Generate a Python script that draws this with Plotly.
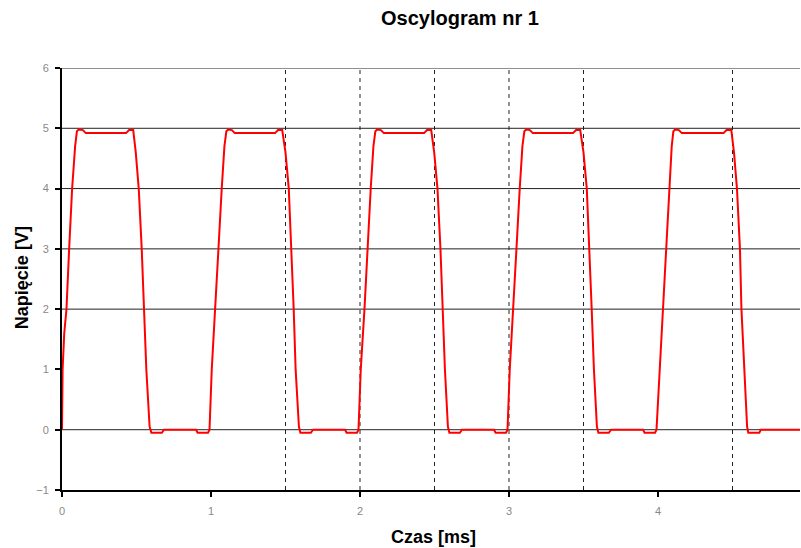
import plotly.graph_objects as go

# ---- data (time in ms, voltage in V) ----
time_ms = [
    0.000, 0.004, 0.015, 0.030, 0.048, 0.068, 0.088, 0.100, 0.112, 0.140, 0.160,
    0.430, 0.450, 0.478, 0.495, 0.515, 0.535, 0.550, 0.566, 0.588, 0.600, 0.670, 0.685,
    0.900, 0.910, 0.980, 0.990, 1.005, 1.030, 1.050, 1.072, 1.090, 1.103, 1.115, 1.140, 1.160,
    1.430, 1.450, 1.478, 1.500, 1.522, 1.540, 1.555, 1.568, 1.590, 1.600, 1.670, 1.685,
    1.900, 1.910, 1.980, 1.990, 2.005, 2.030, 2.050, 2.072, 2.090, 2.103, 2.115, 2.140, 2.160,
    2.430, 2.450, 2.478, 2.498, 2.520, 2.540, 2.555, 2.570, 2.590, 2.600, 2.670, 2.685,
    2.900, 2.910, 2.980, 2.990, 3.005, 3.030, 3.050, 3.072, 3.090, 3.103, 3.115, 3.140, 3.160,
    3.430, 3.450, 3.478, 3.500, 3.522, 3.540, 3.555, 3.570, 3.590, 3.600, 3.670, 3.685,
    3.900, 3.910, 3.980, 3.990, 4.012, 4.036, 4.054, 4.076, 4.092, 4.103, 4.115, 4.140, 4.160,
    4.440, 4.460, 4.492, 4.510, 4.530, 4.550, 4.560, 4.577, 4.598, 4.606, 4.680, 4.690,
    4.953,
]
voltage_v = [
    0.00, 1.00, 1.60, 2.00, 3.00, 4.00, 4.70, 4.95, 4.98, 4.97, 4.92,
    4.92, 4.97, 4.97, 4.60, 4.00, 3.00, 2.00, 1.00, 0.05, -0.05, -0.05, 0.00,
    0.00, -0.05, -0.05, 0.00, 1.00, 2.00, 3.00, 4.00, 4.70, 4.95, 4.98, 4.97, 4.92,
    4.92, 4.97, 4.97, 4.60, 4.00, 3.00, 2.00, 1.00, 0.05, -0.05, -0.05, 0.00,
    0.00, -0.05, -0.05, 0.00, 1.00, 2.00, 3.00, 4.00, 4.70, 4.95, 4.98, 4.97, 4.92,
    4.92, 4.97, 4.97, 4.60, 4.00, 3.00, 2.00, 1.00, 0.05, -0.05, -0.05, 0.00,
    0.00, -0.05, -0.05, 0.00, 1.00, 2.00, 3.00, 4.00, 4.70, 4.95, 4.98, 4.97, 4.92,
    4.92, 4.97, 4.97, 4.60, 4.00, 3.00, 2.00, 1.00, 0.05, -0.05, -0.05, 0.00,
    0.00, -0.05, -0.05, 0.00, 1.00, 2.00, 3.00, 4.00, 4.70, 4.95, 4.98, 4.97, 4.92,
    4.92, 4.97, 4.97, 4.60, 4.00, 3.00, 2.00, 1.00, 0.05, -0.05, -0.05, 0.00,
    0.00,
]

x_ticks = [0, 1, 2, 3, 4]
y_ticks = [-1, 0, 1, 2, 3, 4, 5, 6]
y_gridlines = [0, 2, 3, 4, 5, 6]
x_cursors = [1.5, 2.0, 2.5, 3.0, 3.5, 4.5]

title_text = "Oscylogram nr 1"
x_title = "Czas [ms]"
y_title = "Napięcie [V]"

X_RANGE = [0, 4.953]
Y_RANGE = [-1, 6]

FONT = "Liberation Sans, Arial, sans-serif"

fig = go.Figure()

fig.add_trace(go.Scatter(
    x=time_ms, y=voltage_v, mode="lines",
    line=dict(color="#ff0000", width=2),
    showlegend=False, hoverinfo="skip",
))

shapes = []
for g in y_gridlines:
    shapes.append(dict(type="line", xref="paper", yref="y", x0=0, x1=1, y0=g, y1=g,
                       line=dict(color="#222222", width=1), layer="below"))
for c in x_cursors:
    shapes.append(dict(type="line", xref="x", yref="paper", x0=c, x1=c, y0=0, y1=1,
                       line=dict(color="#222222", width=1, dash="4px,4px"), layer="below"))

fig.update_layout(
    width=801, height=548,
    margin=dict(l=62, r=1, t=68, b=58),
    paper_bgcolor="white", plot_bgcolor="white",
    font=dict(family=FONT, color="black"),
    shapes=shapes,
    xaxis=dict(range=X_RANGE, tickvals=x_ticks, showgrid=False, zeroline=False,
               showline=True, linecolor="black", linewidth=2,
               ticks="outside", ticklen=5, tickwidth=2, tickcolor="black",
               tickfont=dict(size=11, color="#888888", family=FONT),
               ticklabelstandoff=5),
    yaxis=dict(range=Y_RANGE, tickvals=y_ticks, showgrid=False, zeroline=False,
               showline=True, linecolor="black", linewidth=2,
               ticks="outside", ticklen=5, tickwidth=2, tickcolor="black",
               tickfont=dict(size=11, color="#888888", family=FONT),
               ticklabelstandoff=4),
    annotations=[
        dict(text="<b>" + title_text + "</b>", xref="paper", yref="paper",
             x=0.539, y=1, yshift=50, xanchor="center", yanchor="middle",
             showarrow=False, font=dict(size=20, family=FONT, color="black")),
        dict(text="<b>" + x_title + "</b>", xref="paper", yref="paper",
             x=0.504, y=0, yshift=-47, xanchor="center", yanchor="middle",
             showarrow=False, font=dict(size=18, family=FONT, color="black")),
        dict(text="<b>" + y_title + "</b>", xref="paper", yref="paper",
             x=0, xshift=-40, y=0.502, xanchor="center", yanchor="middle",
             textangle=-90, showarrow=False,
             font=dict(size=18, family=FONT, color="black")),
    ],
)

fig.write_html(
    "out.html",
    config={"displayModeBar": False},
    post_script="document.body.style.margin='0';document.body.style.overflow='hidden';",
)
